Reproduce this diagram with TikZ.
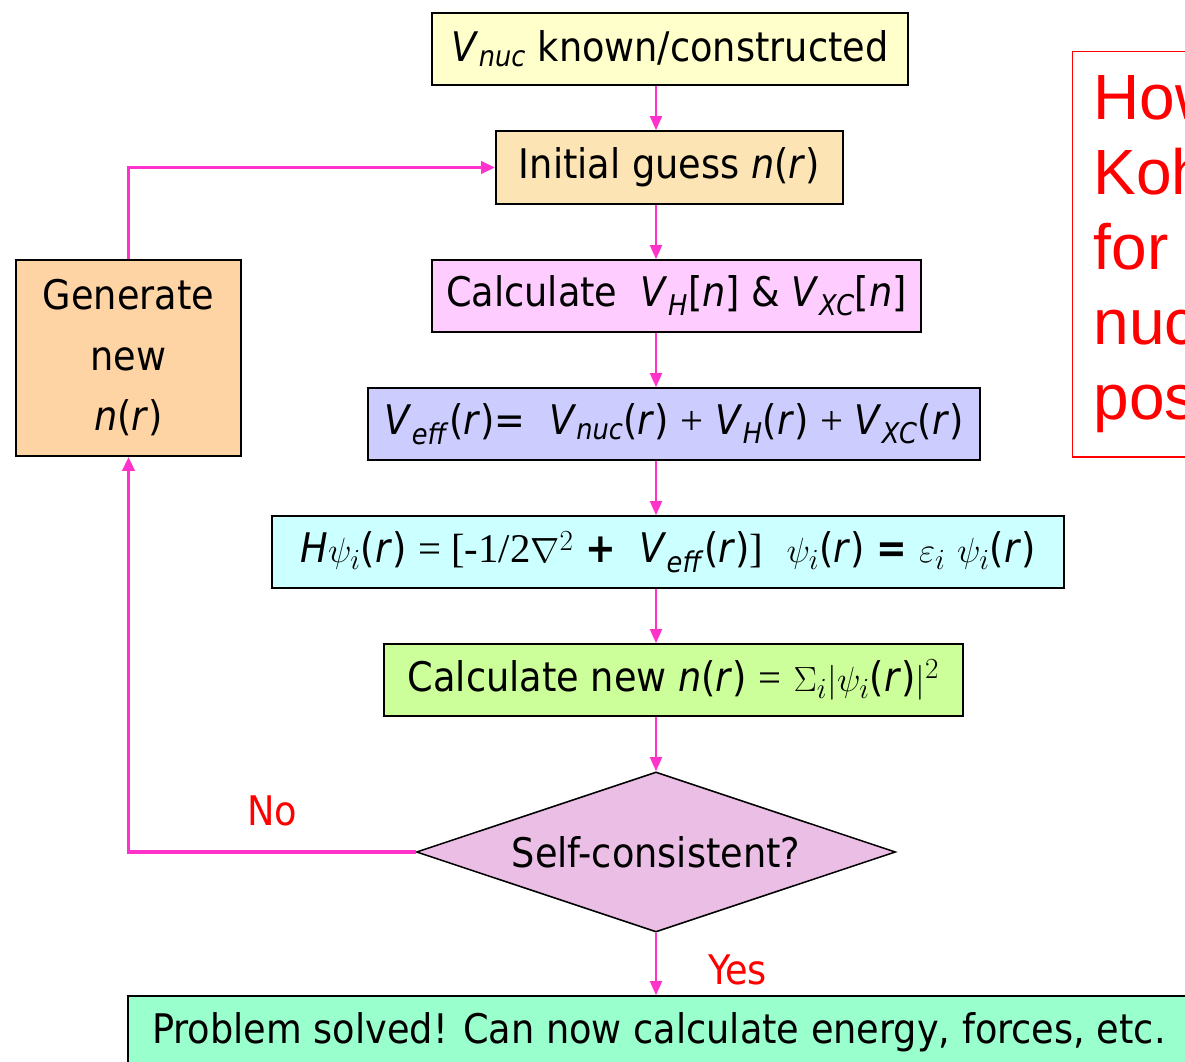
\documentclass[tikz,border=0pt]{standalone}
\usepackage{fontspec}
\IfFontExistsTF{DejaVu Sans Condensed}
  {\setmainfont{DejaVu Sans Condensed}}
  {\setmainfont{DejaVu Sans}}
\newfontfamily\tms{Liberation Serif}
\newfontfamily\arial{Liberation Sans}
\usepackage{xcolor}
\usepackage{tikz}
\usetikzlibrary{shapes.geometric, arrows.meta, positioning}

\definecolor{linkpink}{RGB}{255,51,204}
\definecolor{nucyellow}{RGB}{255,255,204}
\definecolor{guesstan}{RGB}{252,228,180}
\definecolor{hxcpink}{RGB}{255,204,255}
\definecolor{efflilac}{RGB}{204,204,255}
\definecolor{kscyan}{RGB}{204,255,255}
\definecolor{newgreen}{RGB}{204,255,153}
\definecolor{scforchid}{RGB}{235,190,230}
\definecolor{genorange}{RGB}{255,212,164}
\definecolor{donegreen}{RGB}{153,255,204}

\newcommand{\boxfont}{\fontsize{29}{43}\selectfont}
\newcommand{\pot}[1]{\textit{V}\textsubscript{\textit{#1}}}
\newcommand{\nofr}{\textit{n}(\textit{r})}

\tikzset{
  block/.style={
    rectangle, draw=black, line width=1.1pt,
    minimum height=1.8cm, inner sep=0pt,
    align=center, font=\boxfont
  },
  decision/.style={
    diamond, aspect=3, draw=black, line width=1.1pt,
    inner sep=0pt, font=\boxfont
  },
  note/.style={
    rectangle, draw=red, line width=1pt, fill=white,
    inner xsep=0.525cm, inner ysep=0pt, align=left, text=red,
    font=\arial\fontsize{45.5}{53.4}\selectfont
  },
  answer/.style={font=\boxfont, text=red, inner sep=0pt},
  arr/.style={-{Triangle[length=10pt, width=8.5pt]}, draw=linkpink, line width=1.4pt},
  loopline/.style={arr, line width=2.6pt},
}

\begin{document}
\begin{tikzpicture}[x=0.025cm, y=-0.025cm]
  \useasboundingbox (0,0) rectangle (1185,1062);
  \clip (0,0) rectangle (1185,1062);

  % Main column
  \node[block, fill=nucyellow, minimum width=11.9cm] (vnuc) at (670,49) {\pot{nuc} known/constructed};
  \node[block, fill=guesstan, minimum width=8.675cm, minimum height=1.825cm] (init) at (669.5,167.5) {Initial guess \nofr};
  \node[block, fill=hxcpink, minimum width=12.225cm] (vhxc) at (676.5,296) {Calculate \ \pot{H}[\textit{n}] \& \pot{XC}[\textit{n}]};
  \node[block, fill=efflilac, minimum width=15.3cm] (veff) at (674,424)
    {\pot{eff}(\textit{r})= \ \pot{nuc}(\textit{r}) {\tms +} \pot{H}(\textit{r}) {\tms +} \pot{XC}(\textit{r})};
  \node[block, fill=kscyan, minimum width=19.8cm] (ks) at (668,552)
    {\textit{H}$\psi_i$(\textit{r}) {\tms = [-1/2}$\nabla^2$ \textbf{+} \ \pot{eff}(\textit{r}){\tms ]} \ $\psi_i$(\textit{r}) \textbf{=} $\varepsilon_i$ $\psi_i$(\textit{r})};
  \node[block, fill=newgreen, minimum width=14.475cm] (newn) at (673.5,680)
    {Calculate new \nofr\ {\tms =} $\Sigma_i|\psi_i$(\textit{r})$|^2$};
  \node[decision, fill=scforchid, minimum width=11.975cm, minimum height=4cm] (scf) at (656,852) {Self-consistent?};
  \node[block, fill=donegreen, minimum width=26.55cm] (done) at (659,1032) {Problem solved! Can now calculate energy, forces, etc.};

  % Loop box and side note
  \node[block, fill=genorange, minimum width=5.625cm, minimum height=4.9cm] (gen) at (128.5,358) {Generate\\new\\\nofr};
  \node[note, anchor=north west, text width=9cm, minimum height=10.125cm] (hint) at (1072,51) {How\\Koh\\for\\nuc\\pos};

  % Arrows
  \foreach \a/\b in {vnuc/init, init/vhxc, vhxc/veff, veff/ks, ks/newn, newn/scf}
    \draw[arr] (\a.south -| scf.north) -- (\b.north -| scf.north);
  \draw[arr] (scf.south) -- (done.north -| scf.south)
    node[midway, right=1.275cm, yshift=-0.15cm, answer] {Yes};
  \draw[loopline] (scf.west) -| (gen.south)
    node[pos=0.25, above=0.6cm, answer] {No};
  \draw[loopline] (gen.north) |- (init.west);

\end{tikzpicture}
\end{document}
